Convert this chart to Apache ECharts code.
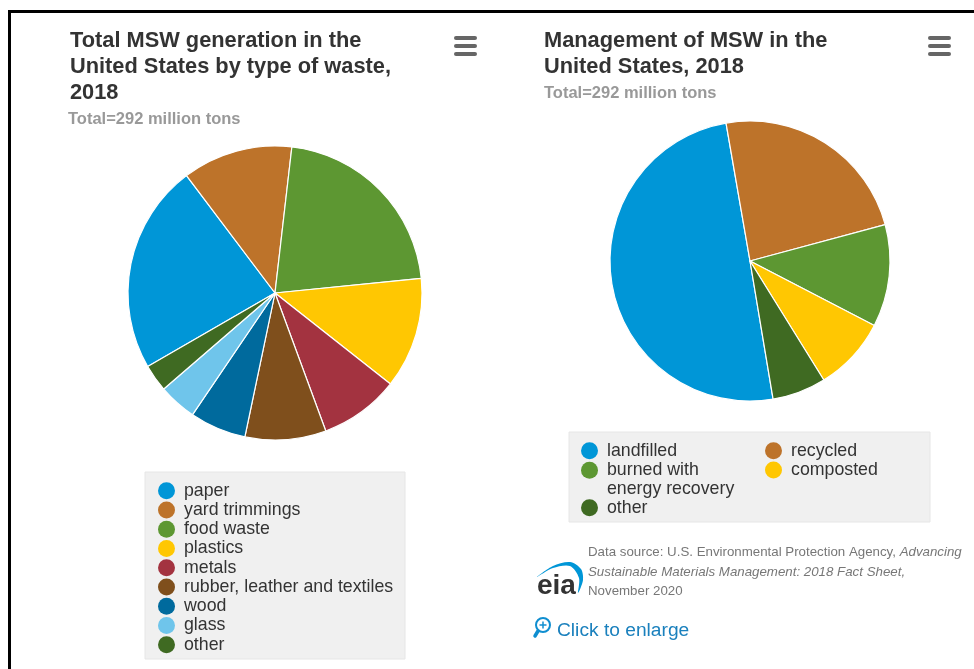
<!DOCTYPE html>
<html>
<head>
<meta charset="utf-8" />
<script src="https://cdn.jsdelivr.net/npm/echarts@6/dist/echarts.min.js"></script>
<style>
  html, body { margin: 0; padding: 0; background: #fff; }
  #chart { width: 974px; height: 669px; }
</style>
</head>
<body>
<div id="chart"></div>
<script>
var wasteTypes = ["paper", "yard trimmings", "food waste", "plastics", "metals", "rubber, leather and textiles", "wood", "glass", "other"];
var wasteShares = [23.05, 12.11, 21.59, 12.2, 8.76, 8.9, 6.19, 4.19, 3.0];
var wasteColors = ["#0096d7", "#bd732a", "#5d9732", "#ffc702", "#a33340", "#7f4f1c", "#006a9d", "#6fc5eb", "#3f6a22"];

var methods = ["landfilled", "recycled", "burned with energy recovery", "composted", "other"];
var methodShares = [49.9, 23.55, 11.8, 8.55, 6.2];
var methodColors = ["#0096d7", "#bd732a", "#5d9732", "#ffc702", "#3f6a22"];

var font = '"Liberation Sans", Arial, sans-serif';
var textColor = "#333333";

function pieData(names, values, colors) {
  return names.map(function (name, i) {
    return { name: name, value: values[i], itemStyle: { color: colors[i] } };
  });
}

function legendBlock(names, left, top) {
  return {
    orient: "vertical",
    left: left,
    top: top,
    padding: 0,
    data: names,
    icon: "circle",
    itemWidth: 17,
    itemHeight: 17,
    itemGap: 0.75,
    selectedMode: false,
    itemStyle: { borderWidth: 0 },
    formatter: function (name) {
      // blank first line keeps the marker on the "burned with" line
      return name === "burned with energy recovery" ? "\nburned with\nenergy recovery" : name;
    },
    textStyle: { fontFamily: font, fontSize: 17.75, color: textColor, padding: [0, 0, 0, 4], lineHeight: 18.5 },
  };
}

function titleBlock(text, left, top) {
  return {
    text: text,
    left: left,
    top: top,
    padding: 0,
    textStyle: { fontFamily: font, fontSize: 21.8, fontWeight: "bold", color: textColor, lineHeight: 26 },
  };
}

function subTitle(left, top) {
  return {
    text: "Total=292 million tons",
    left: left,
    top: top,
    padding: 0,
    textStyle: { fontFamily: font, fontSize: 16.5, fontWeight: "bold", color: "#999999" },
  };
}

function menuIcon(x) {
  return [38, 46, 54].map(function (y) {
    return {
      type: "rect",
      shape: { x: x, y: y - 2, width: 23, height: 4, r: 2 },
      style: { fill: "#666666" },
    };
  });
}

var graphics = [
  // frame
  { type: "rect", shape: { x: 8, y: 10, width: 966, height: 3 }, style: { fill: "#000" } },
  { type: "rect", shape: { x: 8, y: 10, width: 3, height: 659 }, style: { fill: "#000" } },
  // legend boxes
  { type: "rect", z: -1, shape: { x: 145, y: 472, width: 260, height: 187 }, style: { fill: "#f0f0f0", stroke: "#e6e6e6" } },
  { type: "rect", z: -1, shape: { x: 569, y: 432, width: 361, height: 90 }, style: { fill: "#f0f0f0", stroke: "#e6e6e6" } },
  // source note
  {
    type: "text",
    style: {
      x: 588, y: 543,
      text: "Data source: U.S. Environmental Protection Agency, {i|Advancing}\n{i|Sustainable Materials Management: 2018 Fact Sheet,}\nNovember 2020",
      font: "13.3px " + font,
      fill: "#777777",
      lineHeight: 19.3,
      rich: { i: { fontStyle: "italic", fontFamily: font, fontSize: 13.3, fill: "#777777", lineHeight: 19.3 } },
    },
  },
  // eia logo
  { type: "text", style: { x: 537, y: 572, text: "eia", font: "bold 28px " + font, fill: "#333333" } },
  {
    type: "polygon",
    shape: { points: [[537, 577], [553, 566], [570, 562], [581, 569], [583, 580], [578, 593], [579, 578], [570, 566], [553, 568]], smooth: 0.3 },
    style: { fill: "#0096d7" },
  },
  // click to enlarge
  { type: "circle", shape: { cx: 543, cy: 625, r: 7 }, style: { fill: "#fff", stroke: "#0f8ed0", lineWidth: 2 } },
  { type: "line", shape: { x1: 538, y1: 631, x2: 535, y2: 636 }, style: { stroke: "#0f8ed0", lineWidth: 3.5, lineCap: "round" } },
  { type: "line", shape: { x1: 539.5, y1: 625, x2: 546.5, y2: 625 }, style: { stroke: "#0f8ed0", lineWidth: 1.5 } },
  { type: "line", shape: { x1: 543, y1: 621.5, x2: 543, y2: 628.5 }, style: { stroke: "#0f8ed0", lineWidth: 1.5 } },
  { type: "text", style: { x: 557, y: 621, text: "Click to enlarge", font: "19.2px " + font, fill: "#1a80bd" } },
].concat(menuIcon(454), menuIcon(928));

var myChart = echarts.init(document.getElementById("chart"));

myChart.setOption({
  animation: false,
  backgroundColor: "#fff",
  title: [
    titleBlock("Total MSW generation in the\nUnited States by type of waste,\n2018", 70, 28),
    subTitle(68, 111),
    titleBlock("Management of MSW in the\nUnited States, 2018", 544, 28),
    subTitle(544, 85),
  ],
  legend: [
    legendBlock(wasteTypes, 158, 481.5),
    legendBlock(["landfilled"], 581, 441.5),
    legendBlock(["burned with energy recovery"], 581, 442.5),
    legendBlock(["other"], 581, 498.5),
    legendBlock(["recycled", "composted"], 765, 441.5),
  ],
  series: [
    {
      type: "pie",
      center: [275, 293],
      radius: [0, 147],
      startAngle: 210,
      label: { show: false },
      labelLine: { show: false },
      itemStyle: { borderColor: "#fff", borderWidth: 1.2 },
      data: pieData(wasteTypes, wasteShares, wasteColors),
    },
    {
      type: "pie",
      center: [750, 261],
      radius: [0, 140],
      startAngle: -80.5,
      label: { show: false },
      labelLine: { show: false },
      itemStyle: { borderColor: "#fff", borderWidth: 1.2 },
      data: pieData(methods, methodShares, methodColors),
    },
  ],
  graphic: graphics,
});
</script>
</body>
</html>
